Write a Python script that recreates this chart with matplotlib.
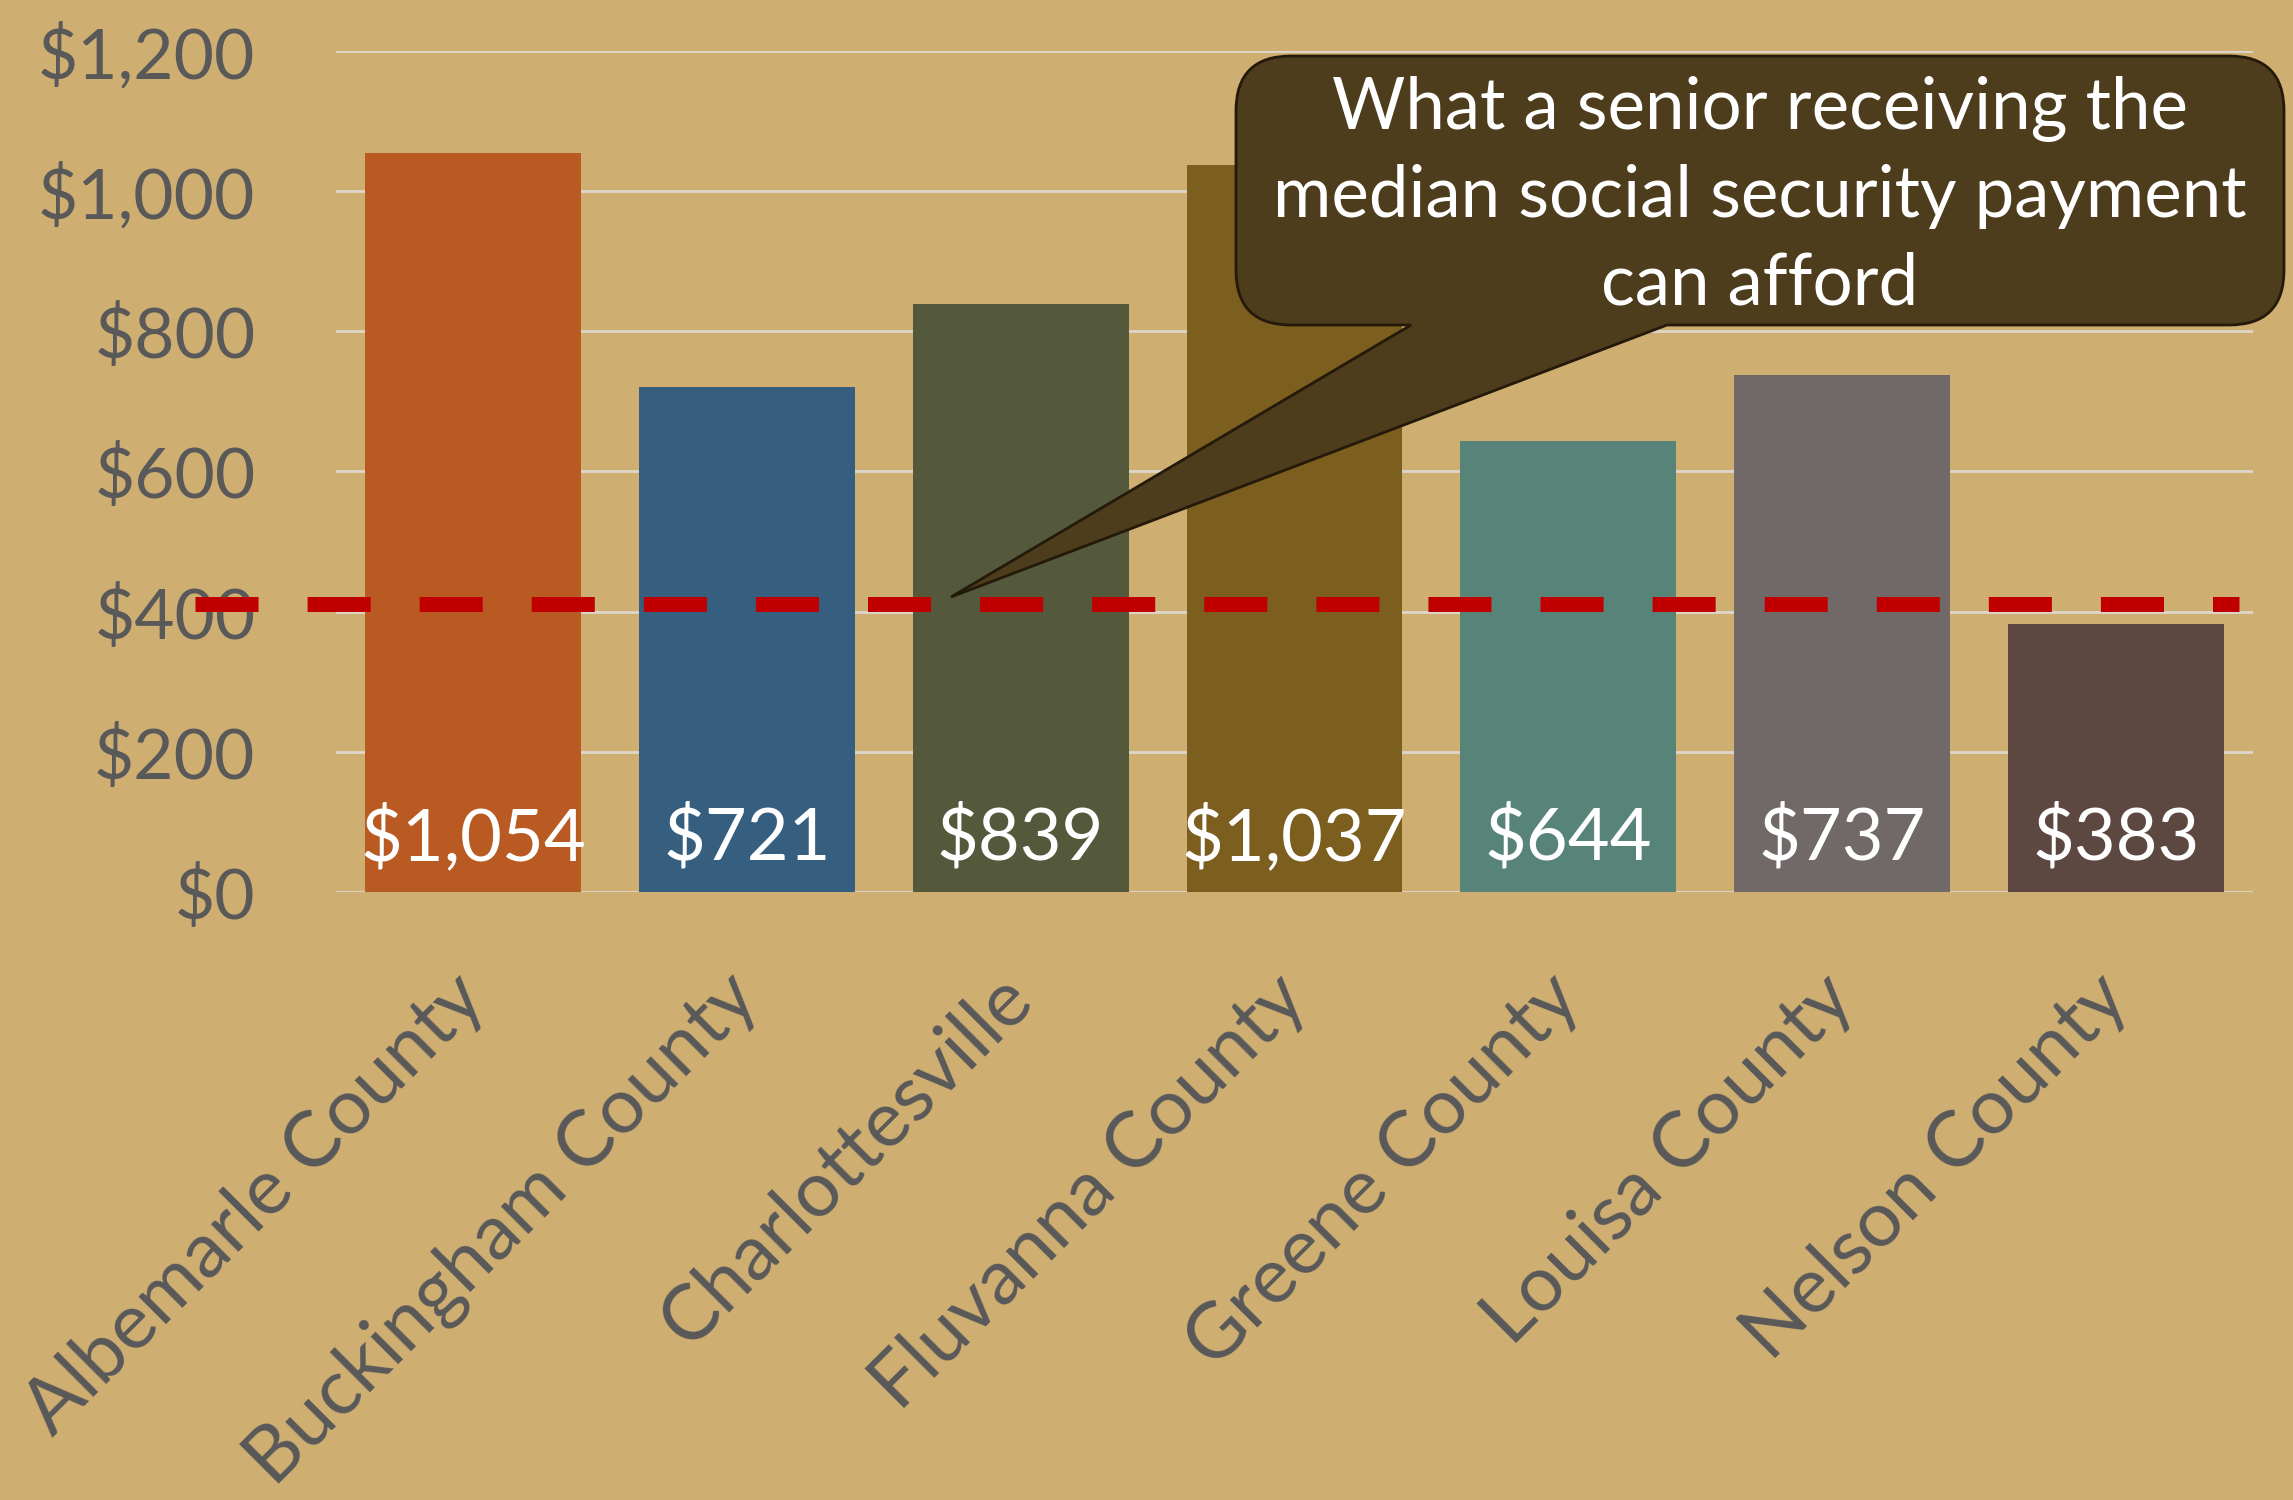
import matplotlib
matplotlib.use("Agg")
import matplotlib.pyplot as plt
from matplotlib.path import Path
from matplotlib.patches import PathPatch
from matplotlib.ticker import FuncFormatter

categories = ["Albemarle County", "Buckingham County", "Charlottesville",
              "Fluvanna County", "Greene County", "Louisa County", "Nelson County"]
values = [1054, 721, 839, 1037, 644, 737, 383]
bar_colors = ["#B85A22", "#365E7E", "#55593C", "#7C5E1E", "#578379", "#716868", "#5C4840"]
affordable = 411
yticks = [0, 200, 400, 600, 800, 1000, 1200]
callout_text = "What a senior receiving the\nmedian social security payment\ncan afford"

W, H = 2293, 1500
BG = "#CFAE72"
GRAY = "#595959"
plt.rcParams['font.family'] = ['Lato', 'DejaVu Sans']
plt.rcParams['lines.scale_dashes'] = False

fig = plt.figure(figsize=(W / 100, H / 100), dpi=100, facecolor=BG)
ax = fig.add_axes([336 / W, 1 - 892 / H, (2253 - 336) / W, (892 - 51) / H])
ax.set_facecolor(BG)

x = list(range(len(categories)))
ax.bar(x, values, width=0.788, color=bar_colors, zorder=2)
ax.set_xlim(-0.5, len(categories) - 0.5)
ax.set_ylim(0, 1200)
ax.set_yticks(yticks)
ax.yaxis.set_major_formatter(FuncFormatter(lambda v, p: f"${v:,.0f}"))
ax.grid(axis='y', color="#DCD6CB", linewidth=2, zorder=0)
for s in ax.spines.values():
    s.set_visible(False)
ax.tick_params(axis='y', length=0, pad=58, labelsize=50, labelcolor=GRAY)
ax.tick_params(axis='x', length=0, pad=68, labelsize=56, labelcolor=GRAY)
ax.set_xticks(x)
ax.set_xticklabels(categories, rotation=45, ha='right', va='center', rotation_mode='anchor')

for xi, v in zip(x, values):
    ax.text(xi, 46, f"${v:,}", color="white", fontsize=52, ha='center', va='baseline', zorder=3)

# dashed reference line extending beyond axes
ax.plot([-1.015, 6.448], [affordable, affordable], color="#C00000", linewidth=10.8,
        dashes=(45.4, 35.3), clip_on=False, zorder=4, solid_capstyle='butt', dash_capstyle='butt')

# callout (in pixel coords, y down)
x0, x1, y0, y1, r = 1236, 2284, 56, 325, 55
bx0, bx1, tip = 1411, 1667, (951, 597)
pts = [
    ((x0 + r, y0), Path.MOVETO),
    ((x1 - r, y0), Path.LINETO),
    ((x1, y0), Path.CURVE3), ((x1, y0 + r), Path.CURVE3),
    ((x1, y1 - r), Path.LINETO),
    ((x1, y1), Path.CURVE3), ((x1 - r, y1), Path.CURVE3),
    ((bx1, y1), Path.LINETO),
    (tip, Path.LINETO),
    ((bx0, y1), Path.LINETO),
    ((x0 + r, y1), Path.LINETO),
    ((x0, y1), Path.CURVE3), ((x0, y1 - r), Path.CURVE3),
    ((x0, y0 + r), Path.LINETO),
    ((x0, y0), Path.CURVE3), ((x0 + r, y0), Path.CURVE3),
    ((x0 + r, y0), Path.CLOSEPOLY),
]
verts = [(px / W, 1 - py / H) for (px, py), _ in pts]
codes = [c for _, c in pts]
patch = PathPatch(Path(verts, codes), facecolor="#4E3D1C", edgecolor="#241A0A",
                  linewidth=2, transform=fig.transFigure, zorder=10)
fig.patches.append(patch)
fig.text((x0 + x1) / 2 / W, 1 - 196 / H, callout_text, color="white", fontsize=51,
         ha='center', va='center', linespacing=1.42, zorder=11)

fig.savefig("out.png", dpi=100, facecolor=BG)
